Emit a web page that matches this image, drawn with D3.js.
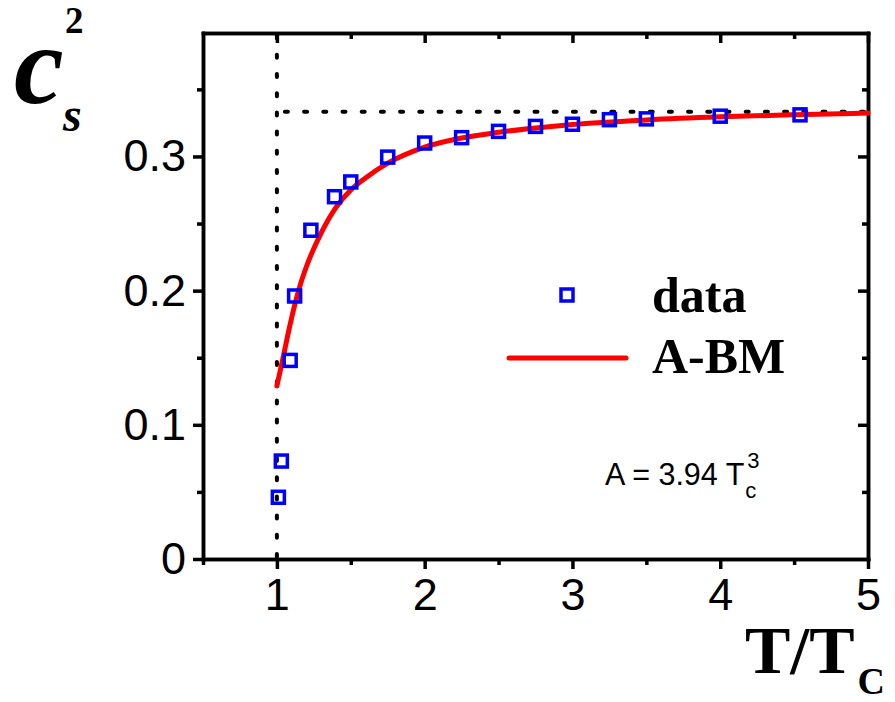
<!DOCTYPE html>
<html>
<head>
<meta charset="utf-8">
<script src="https://cdn.jsdelivr.net/npm/d3@7"></script>
<style>
  html, body { margin: 0; padding: 0; background: #fff; }
  svg { display: block; }
</style>
</head>
<body>
<svg id="chart" width="895" height="702"></svg>
<script>
// Lattice data: squared speed of sound vs T/Tc
const dataT   = [1.01, 1.03, 1.09, 1.12, 1.23, 1.39, 1.50, 1.75, 2.00, 2.25, 2.50, 2.75, 3.00, 3.25, 3.50, 4.00, 4.54];
const dataCs2 = [0.046, 0.073, 0.148, 0.196, 0.245, 0.270, 0.281, 0.2995, 0.310, 0.314, 0.3187, 0.3224, 0.324, 0.3274, 0.328, 0.330, 0.331];

// A-BM model curve, sampled
const fitT   = [1.00, 1.04, 1.08, 1.12, 1.16, 1.20, 1.30, 1.40, 1.50, 1.60, 1.75, 2.00, 2.25, 2.50, 2.75, 3.00, 3.50, 4.00, 4.50, 5.00];
const fitCs2 = [0.129, 0.149, 0.170, 0.189, 0.205, 0.218, 0.243, 0.262, 0.275, 0.284, 0.295, 0.307, 0.3138, 0.318, 0.3212, 0.3238, 0.3272, 0.3295, 0.3311, 0.3323];

// Axis ticks
const xMajorTicks = [1, 2, 3, 4, 5];
const xMinorTicks = [0.5, 1.5, 2.5, 3.5, 4.5];
const yMajorTicks = [0, 0.1, 0.2, 0.3];
const yMinorTicks = [0.05, 0.15, 0.25, 0.35];

// Reference lines: T = Tc and the conformal limit 1/3
const tcLine = 1;
const conformalLimit = 1 / 3;

const xDomain = [0.5, 5];
const yDomain = [0, 0.392];

const svg = d3.select("#chart");
const plotLeft = 203, plotRight = 868, plotTop = 33, plotBottom = 559;

const x = d3.scaleLinear().domain(xDomain).range([plotLeft, plotRight]);
const y = d3.scaleLinear().domain(yDomain).range([plotBottom, plotTop]);

const tickFont = "'Liberation Sans', Arial, sans-serif";
const serif = "'Liberation Serif', 'Times New Roman', serif";
const frameW = 3.5;

function styleAxis(g) {
  g.selectAll("path.domain").attr("stroke", "#000").attr("stroke-width", frameW).attr("stroke-linecap", "square");
  g.selectAll(".tick line").attr("stroke", "#000").attr("stroke-width", frameW);
  g.selectAll(".tick text").attr("fill", "#000").attr("font-family", tickFont).attr("font-size", 45);
}

// Minor ticks first (no labels)
svg.append("g").attr("transform", `translate(0,${plotBottom})`)
  .call(d3.axisBottom(x).tickValues(xMinorTicks).tickSize(6).tickSizeOuter(0).tickFormat(""))
  .call(styleAxis);
svg.append("g").attr("transform", `translate(${plotLeft},0)`)
  .call(d3.axisLeft(y).tickValues(yMinorTicks).tickSize(6).tickSizeOuter(0).tickFormat(""))
  .call(styleAxis);
svg.append("g").attr("transform", `translate(0,${plotTop})`)
  .call(d3.axisBottom(x).tickValues(xMinorTicks.filter(d => d > xDomain[0])).tickSize(6).tickSizeOuter(0).tickFormat(""))
  .call(styleAxis);
svg.append("g").attr("transform", `translate(${plotRight},0)`)
  .call(d3.axisLeft(y).tickValues(yMinorTicks).tickSize(6).tickSizeOuter(0).tickFormat(""))
  .call(styleAxis);

// Major ticks
svg.append("g").attr("transform", `translate(0,${plotBottom})`)
  .call(d3.axisBottom(x).tickValues(xMajorTicks).tickSize(10).tickPadding(9).tickSizeOuter(0).tickFormat(d3.format("d")))
  .call(styleAxis);
svg.append("g").attr("transform", `translate(${plotLeft},0)`)
  .call(d3.axisLeft(y).tickValues(yMajorTicks).tickSize(10).tickPadding(7).tickSizeOuter(0)
    .tickFormat(d => d === 0 ? "0" : d3.format(".1f")(d)))
  .call(styleAxis);
svg.append("g").attr("transform", `translate(0,${plotTop})`)
  .call(d3.axisBottom(x).tickValues(xMajorTicks).tickSize(10).tickSizeOuter(0).tickFormat(""))
  .call(styleAxis);
svg.append("g").attr("transform", `translate(${plotRight},0)`)
  .call(d3.axisLeft(y).tickValues(yMajorTicks.filter(d => d > 0)).tickSize(10).tickSizeOuter(0).tickFormat(""))
  .call(styleAxis);

// Dotted reference lines
const dotted = svg.append("g")
  .attr("stroke", "#000").attr("stroke-width", 4)
  .attr("stroke-linecap", "round").attr("stroke-dasharray", "3 16.2").attr("fill", "none");
dotted.append("line")
  .attr("x1", x(tcLine)).attr("x2", x(tcLine))
  .attr("y1", y(0) - 2).attr("y2", y(yDomain[1]));
dotted.append("line")
  .attr("x1", x(tcLine) + 8).attr("x2", x(xDomain[1]))
  .attr("y1", y(conformalLimit)).attr("y2", y(conformalLimit));

// Model curve
const fitPts = fitT.map((t, i) => [t, fitCs2[i]]);
svg.append("path")
  .datum(fitPts)
  .attr("fill", "none")
  .attr("stroke", "#ff0000")
  .attr("stroke-width", 5)
  .attr("stroke-linecap", "round")
  .attr("d", d3.line().x(d => x(d[0])).y(d => y(d[1])).curve(d3.curveMonotoneX));

// Data markers: open squares
const sq = 12;
const dataPts = dataT.map((t, i) => [t, dataCs2[i]]);
svg.append("g").selectAll("rect")
  .data(dataPts)
  .join("rect")
  .attr("x", d => x(d[0]) - sq / 2)
  .attr("y", d => y(d[1]) - sq / 2)
  .attr("width", sq).attr("height", sq)
  .attr("fill", "none")
  .attr("stroke", "#0000ff")
  .attr("stroke-width", 3.5);

// Legend
const legend = svg.append("g");
legend.append("rect")
  .attr("x", 567 - sq / 2).attr("y", 295 - sq / 2)
  .attr("width", sq).attr("height", sq)
  .attr("fill", "none").attr("stroke", "#0000ff").attr("stroke-width", 3.5);
legend.append("text")
  .attr("x", 652).attr("y", 312)
  .attr("font-family", serif).attr("font-weight", "bold").attr("font-size", 50)
  .text("data");
legend.append("line")
  .attr("x1", 509).attr("x2", 626).attr("y1", 358).attr("y2", 358)
  .attr("stroke", "#ff0000").attr("stroke-width", 5).attr("stroke-linecap", "round");
legend.append("text")
  .attr("x", 652).attr("y", 373)
  .attr("font-family", serif).attr("font-weight", "bold").attr("font-size", 50)
  .text("A-BM");

// Parameter annotation: A = 3.94 Tc^3
const ann = svg.append("g").attr("font-family", tickFont).attr("fill", "#000");
const annMain = ann.append("text").attr("x", 605).attr("y", 485).attr("font-size", 30.5).text("A = 3.94 T");
const annEnd = 605 + annMain.node().getComputedTextLength();
ann.append("text").attr("x", annEnd + 1).attr("y", 498).attr("font-size", 22).text("c");
ann.append("text").attr("x", annEnd + 3).attr("y", 468).attr("font-size", 22).text("3");

// Y-axis title: c_s^2
const yTitle = svg.append("g").attr("font-family", serif).attr("font-weight", "bold").attr("fill", "#000");
yTitle.append("text").attr("x", 14).attr("y", 103).attr("font-size", 112).attr("font-style", "italic").text("c");
yTitle.append("text").attr("x", 63).attr("y", 131).attr("font-size", 48).attr("font-style", "italic").text("s");
yTitle.append("text").attr("x", 65).attr("y", 33).attr("font-size", 37).text("2");

// X-axis title: T/Tc
const xTitle = svg.append("g").attr("font-family", serif).attr("font-weight", "bold").attr("fill", "#000");
const xt = xTitle.append("text").attr("x", 745).attr("y", 673).attr("font-size", 68).text("T/T");
const xtEnd = 745 + xt.node().getComputedTextLength();
xTitle.append("text").attr("x", xtEnd + 3).attr("y", 694).attr("font-size", 38).text("C");
</script>
</body>
</html>
